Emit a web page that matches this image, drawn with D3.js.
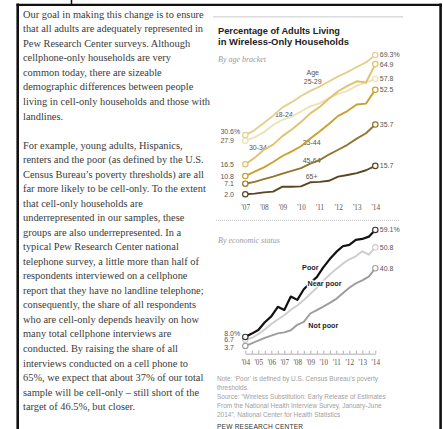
<!DOCTYPE html>
<html><head><meta charset="utf-8">
<script src="https://cdn.jsdelivr.net/npm/d3@7"></script>
<style>
html,body{margin:0;padding:0;background:#fff;}
svg{display:block;}
</style></head><body>
<svg id="c" width="443" height="429"></svg>
<script>
// ---------- DATA ----------
const ageHalfYears = [2007,2007.5,2008,2008.5,2009,2009.5,2010,2010.5,2011,2011.5,2012,2012.5,2013,2013.5,2014];
const ageTickYears = [2007,2008,2009,2010,2011,2012,2013,2014];
const ageTickLabels = ["'07","'08","'09","'10","'11","'12","'13","'14"];
const ageGroups = ["25-29","18-24","30-34","35-44","45-64","65+"];
const age2529 = [30.6,33.0,36.5,40.0,44.0,46.5,49.5,52.0,54.0,56.5,59.0,61.0,63.5,65.7,69.3];
const age1824 = [27.9,29.5,32.0,35.5,38.0,39.5,42.0,44.5,46.0,48.5,50.5,52.0,54.5,56.0,57.8];
const age3034 = [16.5,19.6,23.5,26.0,30.1,33.3,36.9,41.1,44.2,48.2,51.8,54.4,56.6,56.0,64.9];
const age3544 = [10.8,12.9,15.0,17.6,20.5,22.7,25.2,28.9,32.3,36.0,39.9,42.2,45.4,45.8,52.5];
const age4564 = [7.1,8.0,9.3,10.5,12.0,13.3,14.6,16.8,18.5,21.2,23.5,25.9,28.9,31.5,35.7];
const age65 = [2.0,2.3,2.9,3.3,5.7,5.6,5.8,7.8,8.0,8.5,10.5,11.3,12.2,13.6,15.7];

const econHalfYears = [2004,2004.5,2005,2005.5,2006,2006.5,2007,2007.5,2008,2008.5,2009,2009.5,2010,2010.5,2011,2011.5,2012,2012.5,2013,2013.5,2014];
const econTickYears = [2004,2005,2006,2007,2008,2009,2010,2011,2012,2013,2014];
const econTickLabels = ["'04","'05","'06","'07","'08","'09","'10","'11","'12","'13","'14"];
const econGroups = ["Not poor","Near poor","Poor"];
const notPoor = [3.7,4.9,6.3,7.6,8.6,9.7,10.2,11.2,13.8,15.2,19.2,20.8,22.5,24.3,26.2,28.9,31.5,33.6,35.0,36.8,40.8];
const nearPoor = [6.7,7.5,9.4,11.6,14.2,16.3,18.4,21.0,23.0,25.6,28.6,31.5,34.8,37.8,40.5,43.0,45.1,46.5,48.9,47.3,50.8];
const poor = [8.0,9.6,11.3,15.0,17.8,22.4,20.9,27.3,25.7,30.8,33.9,36.6,41.2,45.2,48.6,51.3,52.0,54.4,54.8,55.9,59.1];

// ---------- TEXT ----------
const bodyLines = [
 "Our goal in making this change is to ensure",
 "that all adults are adequately represented in",
 "Pew Research Center surveys. Although",
 "cellphone-only households are very",
 "common today, there are sizeable",
 "demographic differences between people",
 "living in cell-only households and those with",
 "landlines.",
 "",
 "For example, young adults, Hispanics,",
 "renters and the poor (as defined by the U.S.",
 "Census Bureau\u2019s poverty thresholds) are all",
 "far more likely to be cell-only. To the extent",
 "that cell-only households are",
 "underrepresented in our samples, these",
 "groups are also underrepresented. In a",
 "typical Pew Research Center national",
 "telephone survey, a little more than half of",
 "respondents interviewed on a cellphone",
 "report that they have no landline telephone;",
 "consequently, the share of all respondents",
 "who are cell-only depends heavily on how",
 "many total cellphone interviews are",
 "conducted. By raising the share of all",
 "interviews conducted on a cell phone to",
 "65%, we expect that about 37% of our total",
 "sample will be cell-only \u2013 still short of the",
 "target of 46.5%, but closer."
];
const noteLines = [
 "Note: \u2018Poor\u2019 is defined by U.S. Census Bureau\u2019s poverty",
 "thresholds.",
 "Source:  \u201cWireless Substitution: Early Release of Estimates",
 "From the National Health Interview Survey, January-June",
 "2014\u201d, National Center for Health Statistics"
];

// ---------- DRAW ----------
const svg = d3.select("#c");
svg.append("rect").attr("width",443).attr("height",429).attr("fill","#fff");

// frame
const frame = svg.append("g").attr("stroke","#111").attr("fill","none");
frame.append("line").attr("x1",17.7).attr("x2",17.7).attr("y1",3.5).attr("y2",429).attr("stroke-width",2.6);
frame.append("line").attr("x1",16.5).attr("x2",442).attr("y1",4.8).attr("y2",4.8).attr("stroke-width",2.2);
frame.append("line").attr("x1",440.6).attr("x2",440.6).attr("y1",3.5).attr("y2",429).attr("stroke-width",2.6);
frame.append("line").attr("x1",71.5).attr("x2",71.5).attr("y1",0).attr("y2",5).attr("stroke-width",1.5);

// body text
const body = svg.append("g").attr("font-family","'Liberation Serif','Times New Roman',serif")
  .attr("font-size",10.4).attr("fill","#3a3a3a");
bodyLines.forEach((t,i)=>{
  if(!t) return;
  body.append("text").attr("x",23).attr("y",17.8+i*14.53).text(t);
});

// rules
svg.append("line").attr("x1",213).attr("x2",403).attr("y1",16.8).attr("y2",16.8)
  .attr("stroke","#dcdcdc").attr("stroke-width",1.4);
svg.append("line").attr("x1",216).attr("x2",400).attr("y1",220.3).attr("y2",220.3)
  .attr("stroke","#bdbdbd").attr("stroke-width",1).attr("stroke-dasharray","1,1");

// title
const sans = "'Liberation Sans',Arial,sans-serif";
svg.append("text").attr("x",218).attr("y",33.5).attr("font-family",sans).attr("font-weight","bold")
  .attr("font-size",9.8).attr("fill","#222").attr("textLength",122).attr("lengthAdjust","spacingAndGlyphs")
  .text("Percentage of Adults Living");
svg.append("text").attr("x",218).attr("y",45.2).attr("font-family",sans).attr("font-weight","bold")
  .attr("font-size",9.8).attr("fill","#222").attr("textLength",131).attr("lengthAdjust","spacingAndGlyphs")
  .text("in Wireless-Only Households");
svg.append("text").attr("x",218).attr("y",62).attr("font-family","'Liberation Serif',serif").attr("font-style","italic")
  .attr("font-size",8).attr("fill","#9a9a9a").text("By age bracket");
svg.append("text").attr("x",218).attr("y",243).attr("font-family","'Liberation Serif',serif").attr("font-style","italic")
  .attr("font-size",8).attr("fill","#9a9a9a").text("By economic status");

// ---------- Chart 1 ----------
const x1 = d3.scaleLinear().domain([2007,2014]).range([245.3,375.3]);
const y1 = d3.scaleLinear().domain([0,70]).range([198.4,198.4-70*2.069]);
const ageSeries = [
  {name:"18-24", vals:age1824, color:"#eee2b6", startDy:0},
  {name:"25-29", vals:age2529, color:"#e4cf90", startDy:-3.5},
  {name:"30-34", vals:age3034, color:"#dfc26c", startDy:0},
  {name:"35-44", vals:age3544, color:"#c9a12c", startDy:0},
  {name:"45-64", vals:age4564, color:"#927630", startDy:0},
  {name:"65+",   vals:age65,   color:"#5a4720", startDy:0}
];
const g1 = svg.append("g");
const ageLabelPos = {"25-29":[2010.63,60.8], "18-24":[2009.08,40.3], "30-34":[2007.68,24.4],
  "35-44":[2010.57,27.2], "45-64":[2010.57,18.1], "65+":[2010.57,10.6]};
const lab1 = g1.append("g").attr("font-family",sans).attr("font-size",7).attr("fill","#555").attr("text-anchor","middle");
ageGroups.forEach(n=>{
  const p = ageLabelPos[n];
  if(n==="25-29"){
    lab1.append("text").attr("x",x1(p[0])).attr("y",y1(p[1])).attr("dy","0.35em").text("Age");
    lab1.append("text").attr("x",x1(p[0])).attr("y",y1(p[1])).attr("dy","1.65em").text("25-29");
  } else {
    lab1.append("text").attr("x",x1(p[0])).attr("y",y1(p[1])).attr("dy","0.35em").text(n);
  }
});
const line1 = d3.line().x((d,i)=>x1(ageHalfYears[i])).y(d=>y1(d));
ageSeries.forEach(s=>{
  g1.append("path").attr("d",line1(s.vals)).attr("fill","none").attr("stroke",s.color)
    .attr("stroke-width",1.9).attr("stroke-linejoin","round");
});
ageSeries.forEach(s=>{
  const n = s.vals.length-1;
  [[ageHalfYears[0],s.vals[0]],[ageHalfYears[n],s.vals[n]]].forEach(p=>{
    g1.append("circle").attr("cx",x1(p[0])).attr("cy",y1(p[1])).attr("r",2.7)
      .attr("fill","#fff").attr("stroke",s.color).attr("stroke-width",1.2);
  });
});
const num1 = g1.append("g").attr("font-family",sans).attr("font-size",7).attr("fill","#555");
ageSeries.forEach(s=>{
  const n = s.vals.length-1;
  const first = s.name==="25-29";
  const sy = y1(s.vals[0])+s.startDy;
  num1.append("text").attr("x",x1(ageHalfYears[0])-11.3).attr("y",sy).attr("dy","0.35em")
    .attr("text-anchor","end").text(d3.format(".1f")(s.vals[0]));
  if(first) num1.append("text").attr("x",x1(ageHalfYears[0])-11.3).attr("y",sy).attr("dy","0.35em").text("%");
  num1.append("text").attr("x",x1(ageHalfYears[n])+4.5).attr("y",y1(s.vals[n])).attr("dy","0.35em")
    .text(d3.format(".1f")(s.vals[n])+(first?"%":""));
});
g1.append("g").attr("transform",`translate(0,${y1(0)+3})`)
  .call(d3.axisBottom(x1).tickValues(ageTickYears).tickFormat((d,i)=>ageTickLabels[i]).tickSize(0).tickPadding(3))
  .call(g=>g.select(".domain").remove())
  .call(g=>g.selectAll("text").attr("font-family","'Liberation Serif',serif").attr("font-size",7.2).attr("fill","#555"));

// ---------- Chart 2 ----------
const x2 = d3.scaleLinear().domain([2004,2014]).range([245.3,375.3]);
const y2 = d3.scaleLinear().domain([0,60]).range([353.7,353.7-60*2.094]);
const econSeries = [
  {name:"Not poor", vals:notPoor, color:"#9c9c9c", lab:[2010.0,13.3], startDy:2},
  {name:"Near poor", vals:nearPoor, color:"#cdcdcd", lab:[2010.1,33.3], startDy:0},
  {name:"Poor", vals:poor, color:"#111", lab:[2009.0,41.2], startDy:-3}
];
const g2 = svg.append("g");
g2.append("g").attr("transform",`translate(0,${y2(0)})`)
  .call(d3.axisBottom(x2).tickValues(econHalfYears).tickFormat("").tickSizeInner(-3).tickSizeOuter(0))
  .call(g=>g.selectAll("line,path").attr("stroke","#999").attr("stroke-width",0.8));
g2.append("g").attr("transform",`translate(0,${y2(0)+3})`)
  .call(d3.axisBottom(x2).tickValues(econTickYears).tickFormat((d,i)=>econTickLabels[i]).tickSize(0).tickPadding(3))
  .call(g=>g.select(".domain").remove())
  .call(g=>g.selectAll("text").attr("font-family","'Liberation Serif',serif").attr("font-size",7.2).attr("fill","#555"));
const line2 = d3.line().x((d,i)=>x2(econHalfYears[i])).y(d=>y2(d));
econSeries.forEach(s=>{
  g2.append("path").attr("d",line2(s.vals)).attr("fill","none").attr("stroke",s.color)
    .attr("stroke-width",s.name==="Poor"?2.2:1.9).attr("stroke-linejoin","round");
});
econSeries.forEach(s=>{
  const n = s.vals.length-1;
  [[econHalfYears[0],s.vals[0]],[econHalfYears[n],s.vals[n]]].forEach(p=>{
    g2.append("circle").attr("cx",x2(p[0])).attr("cy",y2(p[1])).attr("r",2.7)
      .attr("fill","#fff").attr("stroke",s.color==="#111"?"#333":s.color).attr("stroke-width",1.1);
  });
});
const lab2 = g2.append("g").attr("font-family",sans).attr("font-size",7.2).attr("font-weight","bold").attr("fill","#222").attr("text-anchor","middle");
econSeries.forEach(s=>{
  lab2.append("text").attr("x",x2(s.lab[0])).attr("y",y2(s.lab[1])).attr("dy","0.35em")
    .attr("stroke","#fff").attr("stroke-width",2.5).attr("paint-order","stroke").text(s.name);
});
const num2 = g2.append("g").attr("font-family",sans).attr("font-size",7).attr("fill","#555");
econSeries.forEach(s=>{
  const n = s.vals.length-1;
  const first = s.name==="Poor";
  num2.append("text").attr("x",x2(econHalfYears[0])-11.3).attr("y",y2(s.vals[0])+s.startDy).attr("dy","0.35em")
    .attr("text-anchor","end").text(d3.format(".1f")(s.vals[0]));
  if(first) num2.append("text").attr("x",x2(econHalfYears[0])-11.3).attr("y",y2(s.vals[0])+s.startDy).attr("dy","0.35em").text("%");
  num2.append("text").attr("x",x2(econHalfYears[n])+4.5).attr("y",y2(s.vals[n])).attr("dy","0.35em")
    .text(d3.format(".1f")(s.vals[n])+(first?"%":""));
});

// notes
const notes = svg.append("g").attr("font-family",sans).attr("font-size",6.5).attr("fill","#a0a0a0");
noteLines.forEach((t,i)=>{
  notes.append("text").attr("x",217).attr("y",380.5+i*9.1).text(t);
});
svg.append("text").attr("x",217).attr("y",429).attr("font-family",sans).attr("font-size",6.6)
  .attr("fill","#333").attr("letter-spacing",0.2).text("PEW RESEARCH CENTER");
</script>
</body></html>
